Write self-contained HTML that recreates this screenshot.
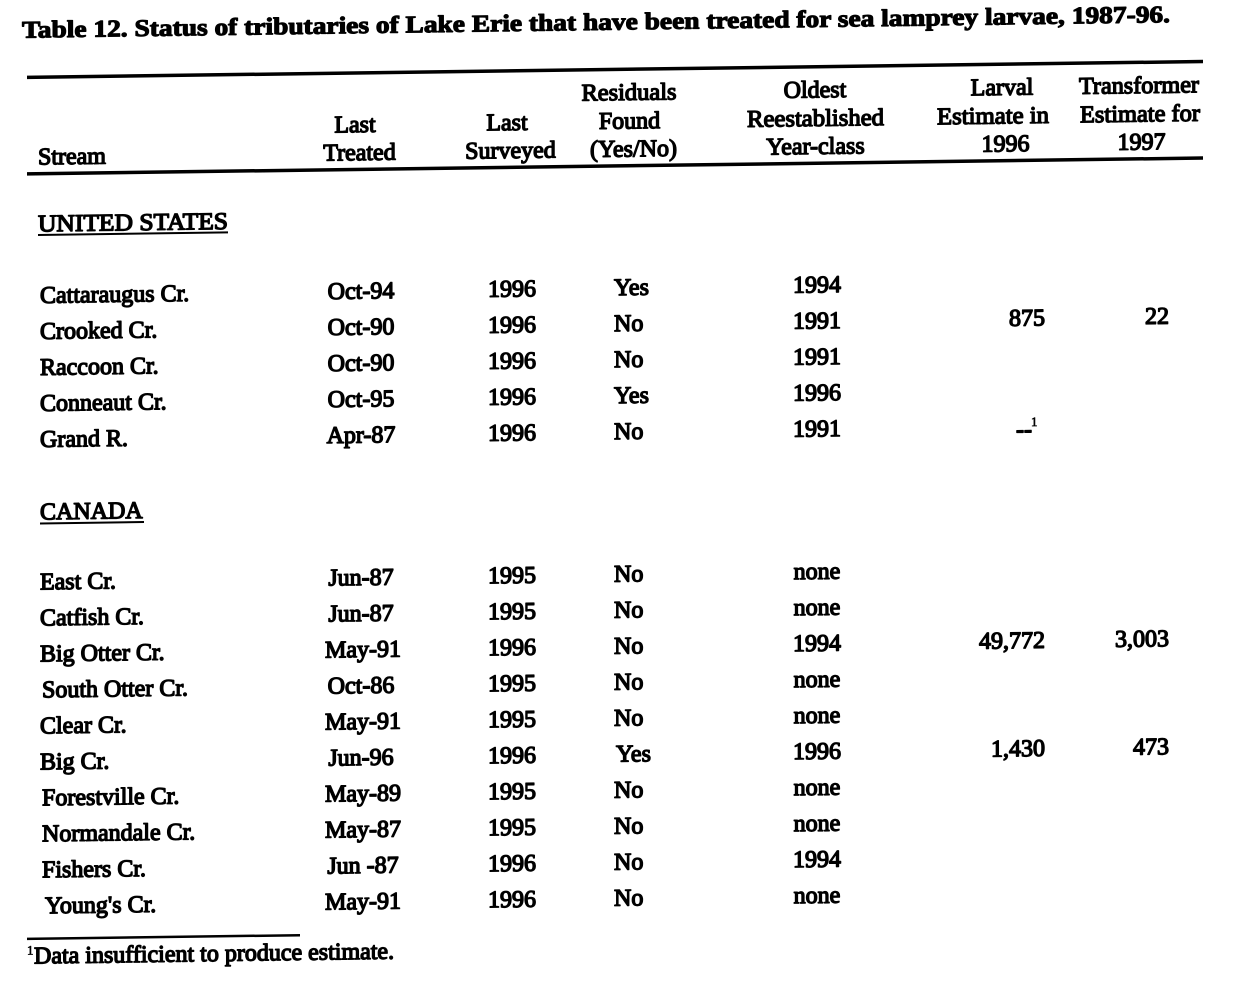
<!DOCTYPE html>
<html>
<head>
<meta charset="utf-8">
<style>
  html, body { margin: 0; padding: 0; background: #fff; }
  body { width: 1259px; height: 987px; overflow: hidden; }
  svg { display: block; }
  text { font-family: "Liberation Serif", "Times New Roman", serif; font-size: 24px; fill: #000; stroke: #000; stroke-width: 1.35px; stroke-linejoin: round; }
  .t { font-weight: bold; stroke-width: 1.1px; }
  .m { text-anchor: middle; }
  .e { text-anchor: end; }
</style>
</head>
<body>
<svg width="1259" height="987" viewBox="0 0 1259 987" xmlns="http://www.w3.org/2000/svg">
<rect width="1259" height="987" fill="#fff"/>
<g transform="matrix(1,-0.0135,0,1,0,0)">
  <!-- Title -->
  <text class="t" x="22" y="38" textLength="1148" lengthAdjust="spacingAndGlyphs">Table 12.  Status of tributaries of Lake Erie that have been treated for sea lamprey larvae, 1987-96.</text>

  <!-- Rules -->
  <rect x="27" y="76" width="1176" height="3.5" fill="#000"/>
  <rect x="27" y="172.5" width="1176" height="3.5" fill="#000"/>

  <!-- Header row 1 -->
  <text class="m" x="629" y="108.5" textLength="95" lengthAdjust="spacingAndGlyphs">Residuals</text>
  <text class="m" x="815" y="108.5">Oldest</text>
  <text class="m" x="1002" y="108.5">Larval</text>
  <text class="m" x="1139" y="108.5" textLength="120" lengthAdjust="spacingAndGlyphs">Transformer</text>

  <!-- Header row 2 -->
  <text class="m" x="355" y="137">Last</text>
  <text class="m" x="507" y="137">Last</text>
  <text class="m" x="629.5" y="137">Found</text>
  <text class="m" x="815.5" y="137" textLength="137" lengthAdjust="spacingAndGlyphs">Reestablished</text>
  <text class="m" x="993" y="137" textLength="112" lengthAdjust="spacingAndGlyphs">Estimate in</text>
  <text class="m" x="1140" y="137" textLength="120" lengthAdjust="spacingAndGlyphs">Estimate for</text>

  <!-- Header row 3 -->
  <text x="38" y="165">Stream</text>
  <text class="m" x="359.5" y="165">Treated</text>
  <text class="m" x="510.5" y="165">Surveyed</text>
  <text class="m" x="633.5" y="165">(Yes/No)</text>
  <text class="m" x="815.5" y="165">Year-class</text>
  <text class="m" x="1005.5" y="165">1996</text>
  <text class="m" x="1141.5" y="165">1997</text>

  <!-- UNITED STATES -->
  <text x="38" y="232" textLength="190" lengthAdjust="spacingAndGlyphs">UNITED STATES</text>
  <rect x="38" y="234.5" width="190" height="2" fill="#000"/>

  <!-- US rows -->
  <text x="40" y="303.5">Cattaraugus Cr.</text>
  <text class="m" x="361" y="303.5">Oct-94</text>
  <text class="m" x="512" y="303.5">1996</text>
  <text x="614" y="303.5">Yes</text>
  <text class="m" x="817" y="303.5">1994</text>

  <text x="40" y="339.5">Crooked Cr.</text>
  <text class="m" x="361" y="339.5">Oct-90</text>
  <text class="m" x="512" y="339.5">1996</text>
  <text x="614" y="339.5">No</text>
  <text class="m" x="817" y="339.5">1991</text>
  <text class="e" x="1045" y="339.5">875</text>
  <text class="e" x="1169" y="339.5">22</text>

  <text x="40" y="375.5">Raccoon Cr.</text>
  <text class="m" x="361" y="375.5">Oct-90</text>
  <text class="m" x="512" y="375.5">1996</text>
  <text x="614" y="375.5">No</text>
  <text class="m" x="817" y="375.5">1991</text>

  <text x="40" y="411.5">Conneaut Cr.</text>
  <text class="m" x="361" y="411.5">Oct-95</text>
  <text class="m" x="512" y="411.5">1996</text>
  <text x="614" y="411.5">Yes</text>
  <text class="m" x="817" y="411.5">1996</text>

  <text x="40" y="447.5">Grand R.</text>
  <text class="m" x="361" y="447.5">Apr-87</text>
  <text class="m" x="512" y="447.5">1996</text>
  <text x="614" y="447.5">No</text>
  <text class="m" x="817" y="447.5">1991</text>
  <text x="1016" y="451">--</text>
  <text x="1031" y="440" style="font-size:13px;stroke-width:0.6px">1</text>

  <!-- CANADA -->
  <text x="40" y="520">CANADA</text>
  <rect x="40" y="523" width="104" height="2" fill="#000"/>

  <!-- Canada rows -->
  <text x="40" y="590">East Cr.</text>
  <text class="m" x="361" y="590">Jun-87</text>
  <text class="m" x="512" y="590">1995</text>
  <text x="614" y="590">No</text>
  <text class="m" x="817" y="590">none</text>

  <text x="40" y="626">Catfish Cr.</text>
  <text class="m" x="361" y="626">Jun-87</text>
  <text class="m" x="512" y="626">1995</text>
  <text x="614" y="626">No</text>
  <text class="m" x="817" y="626">none</text>

  <text x="40" y="662">Big Otter Cr.</text>
  <text class="m" x="363" y="662">May-91</text>
  <text class="m" x="512" y="662">1996</text>
  <text x="614" y="662">No</text>
  <text class="m" x="817" y="662">1994</text>
  <text class="e" x="1045" y="662">49,772</text>
  <text class="e" x="1169" y="662">3,003</text>

  <text x="42" y="698">South Otter Cr.</text>
  <text class="m" x="361" y="698">Oct-86</text>
  <text class="m" x="512" y="698">1995</text>
  <text x="614" y="698">No</text>
  <text class="m" x="817" y="698">none</text>

  <text x="40" y="734">Clear Cr.</text>
  <text class="m" x="363" y="734">May-91</text>
  <text class="m" x="512" y="734">1995</text>
  <text x="614" y="734">No</text>
  <text class="m" x="817" y="734">none</text>

  <text x="40" y="770">Big Cr.</text>
  <text class="m" x="361" y="770">Jun-96</text>
  <text class="m" x="512" y="770">1996</text>
  <text x="616" y="770">Yes</text>
  <text class="m" x="817" y="770">1996</text>
  <text class="e" x="1045" y="770">1,430</text>
  <text class="e" x="1169" y="770">473</text>

  <text x="42" y="806">Forestville Cr.</text>
  <text class="m" x="363" y="806">May-89</text>
  <text class="m" x="512" y="806">1995</text>
  <text x="614" y="806">No</text>
  <text class="m" x="817" y="806">none</text>

  <text x="42" y="842">Normandale Cr.</text>
  <text class="m" x="363" y="842">May-87</text>
  <text class="m" x="512" y="842">1995</text>
  <text x="614" y="842">No</text>
  <text class="m" x="817" y="842">none</text>

  <text x="42" y="878">Fishers Cr.</text>
  <text class="m" x="363" y="878">Jun -87</text>
  <text class="m" x="512" y="878">1996</text>
  <text x="614" y="878">No</text>
  <text class="m" x="817" y="878">1994</text>

  <text x="45" y="914">Young's Cr.</text>
  <text class="m" x="363" y="914">May-91</text>
  <text class="m" x="512" y="914">1996</text>
  <text x="614" y="914">No</text>
  <text class="m" x="817" y="914">none</text>

  <!-- Footnote -->
  <rect x="27" y="938" width="273" height="2.5" fill="#000"/>
  <text x="27" y="955" style="font-size:13px;stroke-width:0.6px">1</text>
  <text x="34" y="964">Data insufficient to produce estimate.</text>
</g>
</svg>
</body>
</html>
